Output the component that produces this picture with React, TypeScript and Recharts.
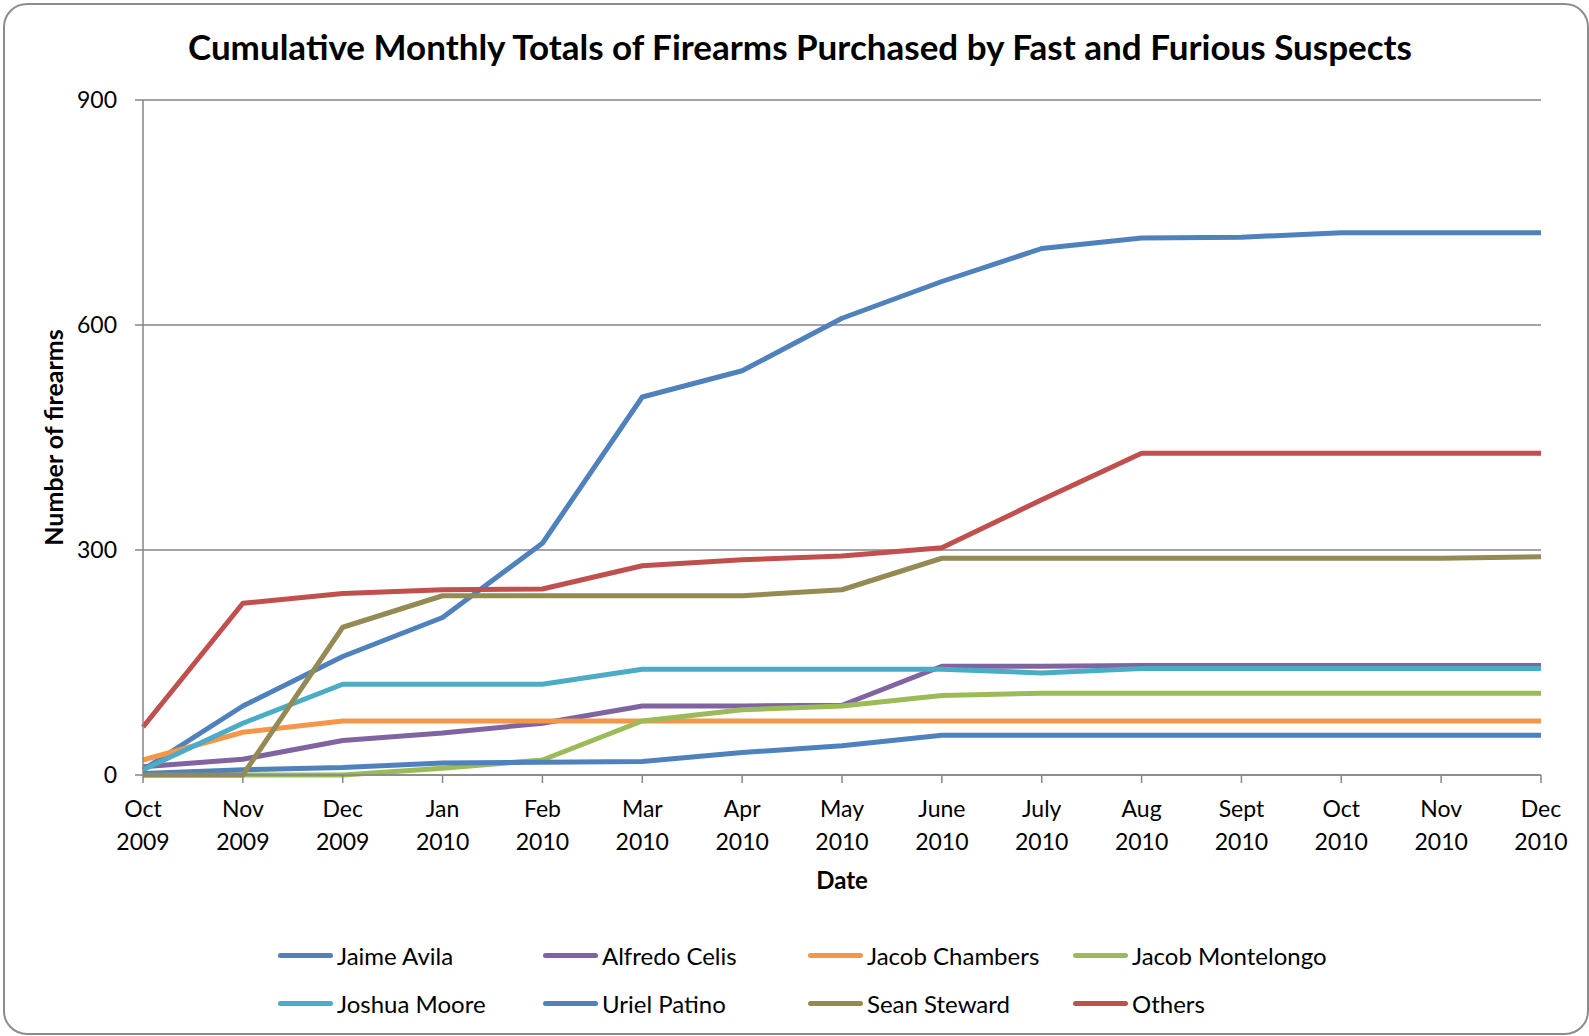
import React from "react";
import { LineChart, Line, XAxis, YAxis, CartesianGrid } from "recharts";

const monthNames = ["Oct", "Nov", "Dec", "Jan", "Feb", "Mar", "Apr", "May", "June", "July", "Aug", "Sept", "Oct", "Nov", "Dec"];
const years = ["2009", "2009", "2009", "2010", "2010", "2010", "2010", "2010", "2010", "2010", "2010", "2010", "2010", "2010", "2010"];

const jaimeAvila = [7, 92, 158, 210, 309, 504, 539, 609, 658, 702, 716, 717, 723, 723, 723];
const alfredoCelis = [11, 21, 46, 56, 69, 92, 92, 93, 145, 145, 146, 146, 146, 146, 146];
const jacobChambers = [20, 57, 72, 72, 72, 72, 72, 72, 72, 72, 72, 72, 72, 72, 72];
const jacobMontelongo = [0, 0, 0, 9, 20, 72, 87, 92, 106, 109, 109, 109, 109, 109, 109];
const joshuaMoore = [7, 69, 121, 121, 121, 141, 141, 141, 141, 136, 142, 142, 142, 142, 142];
const urielPatino = [2, 7, 10, 16, 17, 18, 30, 39, 53, 53, 53, 53, 53, 53, 53];
const seanSteward = [0, 0, 197, 239, 239, 239, 239, 247, 289, 289, 289, 289, 289, 289, 291];
const others = [64, 229, 242, 247, 248, 279, 287, 292, 303, 367, 429, 429, 429, 429, 429];

const yTicks = [0, 300, 600, 900];

const series = [
  { key: "jaime", name: "Jaime Avila", color: "#4F81BD", values: jaimeAvila },
  { key: "alfredo", name: "Alfredo Celis", color: "#8064A2", values: alfredoCelis },
  { key: "chambers", name: "Jacob Chambers", color: "#F79646", values: jacobChambers },
  { key: "montelongo", name: "Jacob Montelongo", color: "#9BBB59", values: jacobMontelongo },
  { key: "moore", name: "Joshua Moore", color: "#4BACC6", values: joshuaMoore },
  { key: "patino", name: "Uriel Patino", color: "#4F81BD", values: urielPatino },
  { key: "steward", name: "Sean Steward", color: "#948A54", values: seanSteward },
  { key: "others", name: "Others", color: "#C0504D", values: others },
];

const data = monthNames.map((m, i) => {
  const row: Record<string, string | number> = { label: `${m} ${years[i]}` };
  series.forEach((s) => {
    row[s.key] = s.values[i];
  });
  return row;
});

const FONT = "Lato, 'Open Sans', sans-serif";
const AXIS_GRAY = "#868686";

function MonthTick({ x, y, payload }: any) {
  const [m, yr] = String(payload.value).split(" ");
  return (
    <g transform={`translate(${x},${y})`}>
      <text textAnchor="middle" fontSize={23} fill="#000" fontFamily={FONT}>
        <tspan x={0} dy={32}>{m}</tspan>
        <tspan x={0} dy={33}>{yr}</tspan>
      </text>
    </g>
  );
}

export default function App() {
  return (
    <div style={{ position: "absolute", left: 0, top: 0, width: 1589, height: 1036, background: "#fff", fontFamily: FONT, overflow: "hidden" }}>
      <div
        style={{
          position: "absolute",
          left: 3,
          top: 3,
          width: 1582,
          height: 1028,
          border: "2px solid #8c8c8c",
          borderRadius: 24,
        }}
      />
      <div
        style={{
          position: "absolute",
          left: 0,
          width: 1600,
          top: 25,
          lineHeight: "42px",
          textAlign: "center",
          fontSize: 35,
          fontWeight: 700,
          color: "#000",
        }}
      >
        Cumulative Monthly Totals of Firearms Purchased by Fast and Furious Suspects
      </div>

      <div style={{ position: "absolute", left: 0, top: 0 }}>
        <LineChart width={1589} height={1036} data={data} margin={{ top: 100, right: 48, bottom: 141, left: 0 }}>
          <CartesianGrid vertical={false} stroke={AXIS_GRAY} strokeWidth={1.5} />
          <XAxis
            dataKey="label"
            height={120}
            interval={0}
            tick={<MonthTick />}
            tickSize={8}
            tickMargin={2}
            axisLine={{ stroke: AXIS_GRAY, strokeWidth: 1.5 }}
            tickLine={{ stroke: AXIS_GRAY, strokeWidth: 1.5 }}
            label={{
              content: ({ viewBox }: any) => (
                <text
                  x={viewBox.x + viewBox.width / 2}
                  y={viewBox.y + 114}
                  textAnchor="middle"
                  fontSize={24}
                  fontWeight={700}
                  fontFamily={FONT}
                  fill="#000"
                >
                  Date
                </text>
              ),
            }}
          />
          <YAxis
            width={143}
            domain={[0, 900]}
            ticks={yTicks}
            interval={0}
            tickSize={8}
            tickMargin={18}
            tick={{ fontSize: 23, fill: "#000", fontFamily: FONT }}
            axisLine={{ stroke: AXIS_GRAY, strokeWidth: 1.5 }}
            tickLine={{ stroke: AXIS_GRAY, strokeWidth: 1.5 }}
            label={{
              content: ({ viewBox }: any) => {
                const cx = viewBox.x + 53;
                const cy = viewBox.y + viewBox.height / 2;
                return (
                  <text
                    x={cx}
                    y={cy}
                    transform={`rotate(-90, ${cx}, ${cy})`}
                    textAnchor="middle"
                    dominantBaseline="central"
                    fontSize={25}
                    fontWeight={700}
                    fontFamily={FONT}
                    fill="#000"
                  >
                    Number of firearms
                  </text>
                );
              },
            }}
          />
          {series.map((s) => (
            <Line
              key={s.key}
              type="linear"
              dataKey={s.key}
              name={s.name}
              stroke={s.color}
              strokeWidth={5}
              strokeLinejoin="round"
              dot={false}
              activeDot={false}
              isAnimationActive={false}
            />
          ))}
        </LineChart>
      </div>

      {/* legend, 4 per row */}
      <div
        style={{
          position: "absolute",
          left: 278,
          top: 931,
          display: "grid",
          gridTemplateColumns: "265px 265px 265px 265px",
          gridAutoRows: "48px",
        }}
      >
        {series.map((s) => (
          <div key={s.key} style={{ display: "flex", alignItems: "center", fontSize: 24, color: "#000", whiteSpace: "nowrap" }}>
            <span
              style={{
                display: "inline-block",
                width: 55,
                height: 5,
                borderRadius: 3,
                background: s.color,
                marginRight: 4,
              }}
            />
            {s.name}
          </div>
        ))}
      </div>
    </div>
  );
}
